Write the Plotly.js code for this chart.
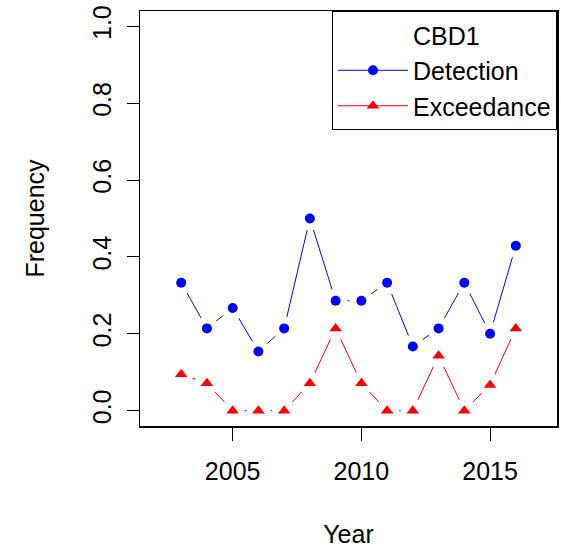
<!DOCTYPE html>
<html>
<head>
<meta charset="utf-8">
<script src="https://cdn.plot.ly/plotly-3.0.1.min.js"></script>
<style>html,body{margin:0;padding:0;background:#fff;}#chart{width:561px;height:548px;}</style>
</head>
<body>
<div id="chart"></div>
<script>
const years = [2003,2004,2005,2006,2007,2008,2009,2010,2011,2012,2013,2014,2015,2016];
const detection = [0.333,0.214,0.267,0.154,0.214,0.5,0.286,0.286,0.333,0.167,0.214,0.333,0.2,0.429];
const exceedance = [0.095,0.071,0,0,0,0.071,0.214,0.071,0,0,0.143,0,0.067,0.214];
const yTicks = [0,0.2,0.4,0.6,0.8,1.0];
const xTicks = [2005,2010,2015];
const legendTitle = 'CBD1';
const seriesNames = ['Detection','Exceedance'];

const BLUE = '#0000ff', RED = '#ff0000';
const FONT = 'Liberation Sans, Arial, sans-serif';

const traces = [
  // legend-only entries
  {x:[null], y:[null], mode:'lines', name:legendTitle, line:{width:0, color:'rgba(0,0,0,0)'}, hoverinfo:'skip'},
  {x:[null], y:[null], mode:'lines+markers', name:seriesNames[0], line:{color:BLUE, width:1}, marker:{symbol:'circle', size:10, color:BLUE}},
  {x:[null], y:[null], mode:'lines+markers', name:seriesNames[1], line:{color:RED, width:1}, marker:{symbol:'triangle-up', size:11, color:RED}},
  // connecting lines
  {x:years, y:detection, mode:'lines', line:{color:BLUE, width:1}, showlegend:false},
  {x:years, y:exceedance, mode:'lines', line:{color:RED, width:1}, showlegend:false},
  // white gaps (type = "b")
  {x:years, y:detection, mode:'markers', marker:{symbol:'circle', size:24, color:'#ffffff'}, showlegend:false, hoverinfo:'skip'},
  {x:years, y:exceedance, mode:'markers', marker:{symbol:'circle', size:24, color:'#ffffff'}, showlegend:false, hoverinfo:'skip'},
  // points
  {x:years, y:detection, mode:'markers', name:seriesNames[0], marker:{symbol:'circle', size:10, color:BLUE}, showlegend:false},
  {x:years, y:exceedance, mode:'markers', name:seriesNames[1], marker:{symbol:'triangle-up', size:11, color:RED}, showlegend:false}
];

const layout = {
  width:561, height:548,
  margin:{l:140, r:4, t:11, b:122},
  paper_bgcolor:'#fff', plot_bgcolor:'#fff',
  font:{family:FONT, size:25, color:'#000'},
  showlegend:true,
  legend:{x:1, y:1, xanchor:'right', yanchor:'top', bordercolor:'#000', borderwidth:1, bgcolor:'#fff',
          itemwidth:70, font:{family:FONT, size:25, color:'#000'}, tracegroupgap:0, traceorder:'normal'},
  xaxis:{
    range:[2001.4, 2017.6], tickvals:xTicks, ticks:'outside', ticklen:13, tickwidth:1, tickcolor:'#000',
    ticklabelstandoff:9,
    showgrid:false, zeroline:false, showline:true, linecolor:'#000', linewidth:1.5, mirror:true,
    title:{text:'Year', font:{family:FONT, size:25, color:'#000'}, standoff:50},
    tickfont:{family:FONT, size:25, color:'#000'}
  },
  yaxis:{
    range:[-0.04, 1.04], tickvals:yTicks, tickformat:'.1f', tickangle:-90, ticks:'outside', ticklen:12, tickwidth:1, tickcolor:'#000',
    ticklabelstandoff:6,
    showgrid:false, zeroline:false, showline:true, linecolor:'#000', linewidth:1.5, mirror:true,
    title:{text:'Frequency', font:{family:FONT, size:25, color:'#000'}, standoff:36},
    tickfont:{family:FONT, size:25, color:'#000'}
  }
};

Plotly.newPlot('chart', traces, layout, {displayModeBar:false, staticPlot:true});
</script>
</body>
</html>
